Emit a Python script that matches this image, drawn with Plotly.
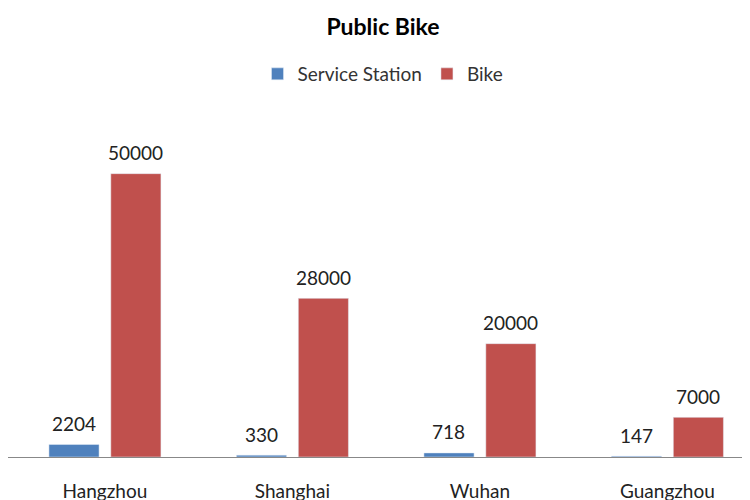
import plotly.graph_objects as go

cities = ["Hangzhou", "Shanghai", "Wuhan", "Guangzhou"]
stations = [2204, 330, 718, 147]
bikes = [50000, 28000, 20000, 7000]

BLUE = "#4F81BD"
RED = "#C0504D"
FONT = "Lato"

fig = go.Figure()
fig.add_trace(go.Bar(name="Service Station", x=cities, y=stations, marker_color=BLUE))
fig.add_trace(go.Bar(name="Bike", x=cities, y=bikes, marker_color=RED))

ann = []
for c, s, b in zip(cities, stations, bikes):
    ann.append(dict(x=c, y=s, text=str(s), xshift=-31, yshift=21, showarrow=False,
                    yanchor="middle", font=dict(size=19, color="#222", family=FONT)))
    ann.append(dict(x=c, y=b, text=str(b), xshift=31, yshift=21, showarrow=False,
                    yanchor="middle", font=dict(size=19, color="#222", family=FONT)))

fig.update_layout(
    width=750, height=500,
    margin=dict(l=0, r=0, t=92, b=51),
    paper_bgcolor="white", plot_bgcolor="white",
    font=dict(family=FONT, size=19, color="#222"),
    title=dict(text="<b>Public Bike</b>", x=0.5, xref="paper", y=0.962, yref="container",
               xanchor="center", yanchor="middle", font=dict(size=23, color="#000", family=FONT)),
    legend=dict(orientation="h", x=0.5, xanchor="center", xref="paper", y=0.868, yref="container",
                yanchor="middle", font=dict(size=19, color="#333"), itemwidth=30),
    barmode="group", bargap=0.34, bargroupgap=0.19,
    annotations=ann,
    xaxis=dict(range=[-0.517, 3.483], showline=True, linecolor="#888", linewidth=1,
               ticks="outside", ticklen=17, tickcolor="rgba(0,0,0,0)", showgrid=False,
               automargin=False, tickfont=dict(size=19, color="#222")),
    yaxis=dict(range=[0, 63000], visible=False, showgrid=False, automargin=False),
)
fig.write_html("out.html")
